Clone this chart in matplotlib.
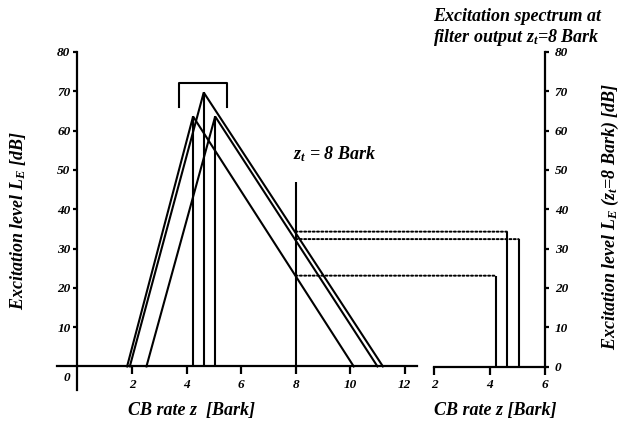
import matplotlib
matplotlib.use('Agg')
import matplotlib.pyplot as plt
from matplotlib.patches import ConnectionPatch

# excitation patterns of three tones
peak_z = [4.24, 4.63, 5.05]          # Bark
peak_level = [63.6, 69.7, 63.6]      # dB
lower_start = [1.82, 1.92, 2.53]     # where lower slope meets 0 dB
upper_end = [10.13, 11.2, 11.0]      # where upper slope meets 0 dB
level_at_8 = [23.1, 34.3, 32.4]      # excitation at z_t = 8 Bark

z_t = 8
z_t_top = 47
bracket_z = [3.72, 5.47]
bracket_level = [66.1, 72.2]

left_xticks = [2, 4, 6, 8, 10, 12]
left_yticks = [10, 20, 30, 40, 50, 60, 70, 80]
right_xticks = [2, 4, 6]
right_yticks = [0, 10, 20, 30, 40, 50, 60, 70, 80]

plt.rcParams['font.family'] = 'Liberation Serif'
plt.rcParams['font.weight'] = 'bold'
plt.rcParams['font.style'] = 'italic'
plt.rcParams['mathtext.fontset'] = 'custom'
plt.rcParams['mathtext.rm'] = 'Liberation Serif:bold:italic'
plt.rcParams['mathtext.it'] = 'Liberation Serif:bold:italic'
plt.rcParams['mathtext.bf'] = 'Liberation Serif:bold:italic'

W, H = 620, 421
fig = plt.figure(figsize=(W / 100, H / 100), dpi=100)

# left panel
ax1 = fig.add_axes([57 / W, 1 - 390 / H, 360 / W, 338 / H])
ax1.set_xlim(-0.75, 12.45)
ax1.set_ylim(-6, 80)
ax1.patch.set_alpha(0)
ax1.spines['left'].set_position(('data', 0))
ax1.spines['bottom'].set_position(('data', 0))
ax1.spines[['top', 'right']].set_visible(False)
for s in ['left', 'bottom']:
    ax1.spines[s].set_linewidth(1.6)
ax1.set_xticks(left_xticks)
ax1.set_yticks(left_yticks)
ax1.tick_params(axis='x', length=6, width=1.6, pad=3, labelsize=9.5)
ax1.tick_params(axis='y', length=3, width=1.6, pad=2, labelsize=9.5)

for i in range(len(peak_z)):
    ax1.plot([lower_start[i], peak_z[i], upper_end[i]], [0, peak_level[i], 0],
             color='black', lw=1.5, solid_joinstyle='miter')
ax1.vlines(peak_z, 0, peak_level, color='black', lw=1.5)
ax1.vlines(z_t, 0, z_t_top, color='black', lw=1.5)
ax1.plot([bracket_z[0], bracket_z[0], bracket_z[1], bracket_z[1]],
         [bracket_level[0], bracket_level[1], bracket_level[1], bracket_level[0]],
         color='black', lw=1.5)
ax1.text(7.9, 51.5, r'z$_t$ = 8 Bark', fontsize=13, ha='left', va='bottom')
ax1.text(-0.4, -3, '0', fontsize=9.5, ha='center', va='center')

# right panel
ax2 = fig.add_axes([434 / W, 1 - 366.5 / H, 111 / W, 314.5 / H])
ax2.set_xlim(2, 6)
ax2.set_ylim(0, 80)
ax2.patch.set_alpha(0)
ax2.spines[['top', 'left']].set_visible(False)
for s in ['right', 'bottom']:
    ax2.spines[s].set_linewidth(1.6)
ax2.yaxis.tick_right()
ax2.set_xticks(right_xticks)
ax2.set_yticks(right_yticks)
ax2.tick_params(axis='x', length=6, width=1.6, pad=3, labelsize=9.5)
ax2.tick_params(axis='y', length=3, width=1.6, pad=4, labelsize=9.5)
ax2.vlines(peak_z, 0, level_at_8, color='black', lw=1.5)

for zr, lv in zip(peak_z, level_at_8):
    con = ConnectionPatch(xyA=(z_t, lv), coordsA=ax1.transData,
                          xyB=(zr, lv), coordsB=ax2.transData,
                          linestyle=(0, (1, 1.2)), color='black', lw=1.4)
    fig.add_artist(con)

# labels
fig.text(192 / W, 1 - 410 / H, 'CB rate z  [Bark]', fontsize=13, ha='center', va='center')
fig.text(495 / W, 1 - 410 / H, 'CB rate z [Bark]', fontsize=13, ha='center', va='center')
fig.text(18 / W, 1 - 220 / H, r'Excitation level L$_E$ [dB]', fontsize=13,
         rotation=90, ha='center', va='center')
fig.text(610 / W, 1 - 216 / H, r'Excitation level L$_E$ (z$_t$=8 Bark) [dB]', fontsize=13,
         rotation=90, ha='center', va='center')
fig.text(433 / W, 1 - 28 / H, 'Excitation spectrum at\nfilter output z$_t$=8 Bark',
         fontsize=13, ha='left', va='center', linespacing=1.15)

fig.savefig('out.png', dpi=100)
